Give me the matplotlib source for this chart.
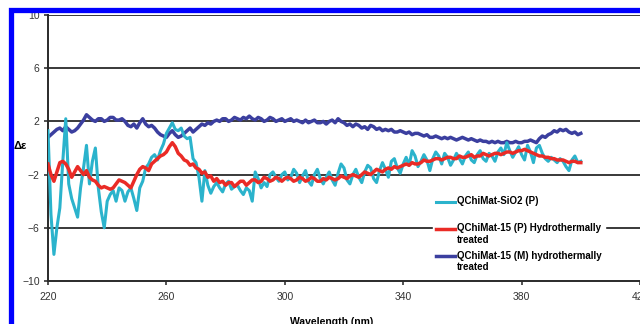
import numpy as np
import matplotlib
matplotlib.use('Agg')
import matplotlib.pyplot as plt
from matplotlib.patches import Rectangle
from matplotlib.legend_handler import HandlerLine2D

plt.rcParams['font.family'] = ['Liberation Sans', 'DejaVu Sans']

# wavelength grid (nm), 1 nm steps
wl = np.arange(220, 401, 1)

# QChiMat-SiO2 (P)
sio2 = [1.3, -5.0, -8.0, -6.0, -4.5, -1.0, 2.2, -2.7, -3.8, -4.5,
        -5.2, -3.0, -1.5, 0.2, -2.7, -1.0, 0.0, -3.0, -4.8, -6.0,
        -4.0, -3.5, -3.2, -4.0, -3.0, -3.2, -4.0, -3.3, -3.0, -3.8,
        -4.7, -3.0, -2.5, -1.5, -1.2, -0.7, -0.5, -0.9, -0.2, 0.3,
        1.1, 1.5, 1.9, 1.4, 1.3, 1.5, 0.9, 0.7, 0.8, -0.8,
        -1.1, -2.2, -4.0, -1.7, -2.8, -3.4, -2.9, -2.6, -3.0, -3.3,
        -2.7, -2.5, -3.1, -2.9, -2.8, -3.2, -3.5, -3.0, -3.2, -4.0,
        -1.8, -2.3, -3.0, -2.6, -2.9, -2.0, -1.8, -2.2, -2.5, -2.0,
        -1.8, -2.4, -2.2, -1.6, -1.9, -2.6, -2.1, -1.7, -2.5, -2.8,
        -2.0, -1.6, -2.3, -2.7, -2.2, -1.8, -2.4, -2.8, -1.9, -1.2,
        -1.5, -2.4, -2.7, -2.0, -1.6, -2.2, -2.6, -1.8, -1.3, -1.5,
        -2.3, -2.6, -1.7, -1.1, -1.6, -2.2, -1.0, -0.8, -1.5, -1.9,
        -1.2, -0.7, -1.3, -0.2, -0.6, -1.4, -1.0, -0.5, -0.9, -1.7,
        -0.8, -0.3, -0.6, -1.2, -0.4, -0.7, -1.3, -0.9, -0.4, -0.8,
        -1.2, -0.6, -0.3, -0.9, -1.1, -0.5, -0.2, -0.8, -1.0, -0.4,
        -0.6, -1.0, -0.3, 0.0, -0.5, 0.4, -0.2, -0.7, -0.3, 0.1,
        -0.5, -0.9, 0.2, -0.3, -1.1, 0.0, 0.2, -0.4, -0.8, -1.0,
        -0.7, -0.9, -1.1, -0.8, -1.0, -1.4, -1.7, -0.9, -0.6, -1.1,
        -1.0]

# QChiMat-15 (P) hydrothermally treated
p15 = [-1.2, -2.0, -2.5, -1.8, -1.1, -1.0, -1.2, -1.6, -2.2, -1.8,
       -1.4, -1.7, -2.0, -1.7, -2.2, -2.4, -2.5, -2.8, -3.0, -2.9,
       -3.0, -3.1, -3.0, -2.7, -2.4, -2.5, -2.6, -2.8, -3.0, -2.5,
       -2.0, -1.6, -1.4, -1.5, -1.7, -1.2, -1.0, -0.8, -0.6, -0.5,
       -0.3, 0.1, 0.4, 0.1, -0.4, -0.6, -0.9, -1.0, -1.3, -1.2,
       -1.5, -1.6, -1.9, -1.8, -2.2, -2.1, -2.5, -2.3, -2.6, -2.5,
       -2.8, -2.6, -2.6, -2.9, -2.7, -2.5, -2.5, -2.8, -2.6, -2.4,
       -2.4, -2.6, -2.5, -2.2, -2.3, -2.5, -2.4, -2.2, -2.3, -2.5,
       -2.3, -2.2, -2.3, -2.5, -2.4, -2.2, -2.3, -2.5, -2.4, -2.2,
       -2.3, -2.5, -2.5, -2.3, -2.4, -2.2, -2.3, -2.4, -2.3, -2.1,
       -2.2, -2.3, -2.1, -2.0, -2.1, -2.2, -2.0, -1.8, -1.9, -2.0,
       -1.8, -1.6, -1.7, -1.8, -1.6, -1.5, -1.6, -1.4, -1.5, -1.4,
       -1.3, -1.2, -1.3, -1.1, -1.2, -1.2, -1.1, -0.9, -1.0, -1.0,
       -0.9, -0.8, -0.8, -0.9, -0.8, -0.7, -0.7, -0.8, -0.8, -0.6,
       -0.7, -0.7, -0.6, -0.5, -0.7, -0.6, -0.6, -0.4, -0.5, -0.6,
       -0.5, -0.4, -0.4, -0.5, -0.4, -0.3, -0.3, -0.4, -0.3, -0.2,
       -0.2, -0.1, -0.2, -0.3, -0.4, -0.5, -0.6, -0.6, -0.7, -0.7,
       -0.8, -0.8, -0.9, -0.9, -0.9, -1.0, -1.1, -1.0, -1.0, -1.1,
       -1.1]

# QChiMat-15 (M) hydrothermally treated
m15 = [0.8, 1.0, 1.2, 1.4, 1.5, 1.3, 1.6, 1.4, 1.2, 1.3,
       1.5, 1.8, 2.1, 2.5, 2.3, 2.1, 2.0, 2.2, 2.2, 2.0,
       2.1, 2.3, 2.3, 2.1, 2.1, 2.2, 2.0, 1.7, 1.6, 1.8,
       1.5, 1.9, 2.2, 1.8, 1.6, 1.7, 1.5, 1.2, 1.0, 0.9,
       0.8, 1.1, 1.3, 1.0, 0.8, 0.9, 1.1, 1.3, 1.5, 1.2,
       1.4, 1.6, 1.8, 1.7, 1.9, 1.8, 2.0, 2.1, 2.0, 2.2,
       2.2, 2.0, 2.1, 2.3, 2.2, 2.1, 2.3, 2.2, 2.4, 2.2,
       2.1, 2.3, 2.2, 2.0, 2.1, 2.3, 2.2, 2.0, 2.1, 2.2,
       2.0, 2.1, 2.2, 2.0, 2.1, 2.0, 1.9, 2.1, 1.9, 2.0,
       2.1, 1.9, 1.9, 2.0, 1.8, 2.0, 2.1, 1.9, 2.2, 2.0,
       1.9, 1.7, 1.8, 1.6, 1.8, 1.7, 1.5, 1.6, 1.4, 1.7,
       1.6, 1.4, 1.5, 1.3, 1.4, 1.3, 1.4, 1.2, 1.2, 1.3,
       1.2, 1.1, 1.2, 1.0, 1.1, 1.1, 1.0, 0.9, 1.0, 0.8,
       0.8, 0.9, 0.8, 0.7, 0.8, 0.7, 0.8, 0.7, 0.6, 0.7,
       0.8, 0.7, 0.6, 0.7, 0.6, 0.5, 0.6, 0.5, 0.5, 0.4,
       0.5, 0.4, 0.5, 0.4, 0.4, 0.5, 0.4, 0.4, 0.5, 0.4,
       0.4, 0.5, 0.5, 0.6, 0.5, 0.4, 0.7, 0.9, 0.8, 1.0,
       1.1, 1.3, 1.2, 1.4, 1.3, 1.4, 1.2, 1.1, 1.2, 1.0,
       1.1]

labels = ['QChiMat-SiO2 (P)\n ',
          'QChiMat-15 (P) Hydrothermally\ntreated',
          'QChiMat-15 (M) hydrothermally\ntreated']
yticks = [-10, -6, -2, 2, 6, 10]
xticks = [220, 260, 300, 340, 380, 420]


class FirstLineHandler(HandlerLine2D):
    # put the legend line next to the first text line
    def create_artists(self, legend, orig_handle, xdescent, ydescent,
                       width, height, fontsize, trans):
        return super().create_artists(legend, orig_handle, xdescent,
                                      ydescent - 8.0, width, height,
                                      fontsize, trans)


W, H = 640, 324
fig = plt.figure(figsize=(W / 100, H / 100), dpi=100)
ax = fig.add_axes([48 / W, 1 - 281 / H, (640 - 48) / W, (281 - 15) / H])

for y in yticks[1:]:
    ax.axhline(y, color='#2a2a2a', lw=1.3, zorder=1)

l1, = ax.plot(wl, sio2, color='#2bb3cc', lw=2.2, zorder=3)
l2, = ax.plot(wl, p15, color='#ea2b26', lw=2.5, zorder=4)
l3, = ax.plot(wl, m15, color='#3b3f9f', lw=2.5, zorder=2)

ax.set_xlim(220, 420)
ax.set_ylim(-10, 10)
ax.set_xticks(xticks)
ax.set_yticks(yticks)
ax.tick_params(labelsize=7.5, colors='#333333', length=3, width=1.2, pad=3)
ax.tick_params(axis='x', pad=5)
for s in ['top', 'right']:
    ax.spines[s].set_visible(False)
for s in ['left', 'bottom']:
    ax.spines[s].set_color('#2a2a2a')
    ax.spines[s].set_linewidth(1.4)

hm = {l1: FirstLineHandler(), l2: FirstLineHandler(), l3: FirstLineHandler()}
leg = ax.legend([l1, l2, l3], labels, loc='upper left', handler_map=hm,
                bbox_to_anchor=(428 / W, 1 - 188 / H), bbox_transform=fig.transFigure,
                frameon=True, facecolor='white', edgecolor='white', framealpha=1,
                fancybox=False, handlelength=2.0, handletextpad=0.2,
                labelspacing=0.6, borderpad=0.3,
                prop={'size': 7, 'weight': 'bold'})
leg.set_zorder(5)

fig.text(20 / W, 1 - 146 / H, 'Δε', fontsize=8, fontweight='bold',
         ha='center', va='center')
fig.text(332 / W, 1 - 322 / H, 'Wavelength (nm)', fontsize=7.5,
         fontweight='bold', ha='center', va='center')

# blue frame around the chart
fig.add_artist(Rectangle((10.5 / W, -0.2), 1.2, 1.2 - 9.5 / H,
                         transform=fig.transFigure, fill=False,
                         edgecolor='#0000ff', lw=3.8, zorder=10))

fig.savefig('out.png', dpi=100)
